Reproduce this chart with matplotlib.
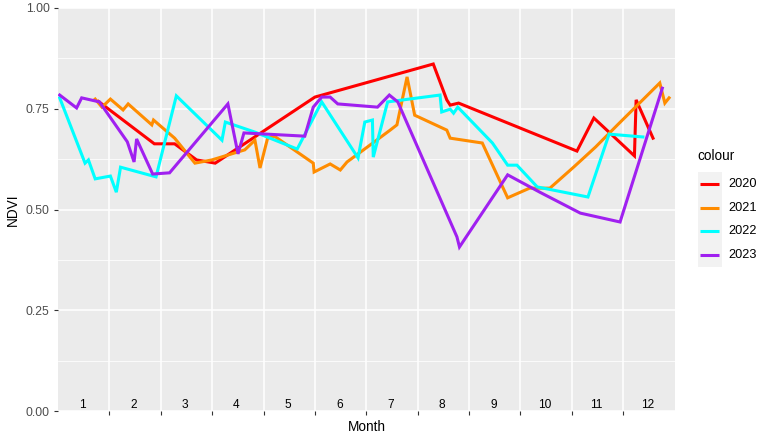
import matplotlib
matplotlib.use("Agg")
import matplotlib.pyplot as plt
import numpy as np

plt.rcParams['font.family'] = ['Liberation Sans', 'DejaVu Sans']

# dia del año y NDVI por año
days_2020 = [24, 57, 69, 82, 93, 152, 222, 230, 232, 237, 307, 317, 341, 342, 352]
ndvi_2020 = [0.768, 0.663, 0.663, 0.623, 0.615, 0.779, 0.861, 0.772, 0.759, 0.764,
             0.645, 0.727, 0.633, 0.772, 0.677]

days_2021 = [22, 26, 31, 38.5, 41.5, 55.5, 56.5, 69, 81, 91, 110.5, 116.5, 119.5, 124,
             128, 151, 151.5, 161, 167, 171, 183, 196.5, 200.5, 206.5, 211, 230, 232,
             251, 266, 279, 291, 305, 318, 331, 356, 359, 361.5]
ndvi_2021 = [0.774, 0.754, 0.774, 0.747, 0.762, 0.710, 0.722, 0.677, 0.615, 0.623,
             0.648, 0.672, 0.603, 0.677, 0.682, 0.615, 0.593, 0.613, 0.598, 0.618,
             0.655, 0.697, 0.710, 0.829, 0.734, 0.697, 0.677, 0.665, 0.529, 0.553,
             0.553, 0.605, 0.655, 0.710, 0.814, 0.764, 0.777]

days_2022 = [1, 16, 18, 22, 31, 34.5, 37, 58, 70, 97, 99, 116.5, 141.5, 156, 177.5,
             181.5, 186, 186.5, 195, 226, 227, 232, 234, 236.5, 257, 266, 271.5, 283.5,
             313.5, 326, 346]
ndvi_2022 = [0.777, 0.615, 0.623, 0.576, 0.583, 0.543, 0.605, 0.581, 0.782, 0.672,
             0.717, 0.692, 0.650, 0.767, 0.628, 0.717, 0.722, 0.630, 0.767, 0.784,
             0.742, 0.749, 0.739, 0.754, 0.665, 0.610, 0.610, 0.556, 0.531, 0.687,
             0.680]

days_2023 = [1, 11, 14, 24.5, 41, 45, 46.5, 56, 66, 100.5, 106.5, 110, 146, 151, 156,
             161, 165.5, 189, 196, 201, 236, 237.5, 266, 285, 309, 332.5, 357.5]
ndvi_2023 = [0.784, 0.752, 0.777, 0.767, 0.668, 0.618, 0.675, 0.588, 0.591, 0.762,
             0.638, 0.690, 0.682, 0.754, 0.779, 0.779, 0.762, 0.754, 0.784, 0.767,
             0.432, 0.407, 0.586, 0.543, 0.491, 0.469, 0.801]

years = ['2020', '2021', '2022', '2023']
colors = ['#FF0000', '#FF8C00', '#00FFFF', '#A020F0']
series = [(days_2020, ndvi_2020), (days_2021, ndvi_2021),
          (days_2022, ndvi_2022), (days_2023, ndvi_2023)]

month_len = 30.4
months = list(range(1, 13))

W, H = 773, 442
fig = plt.figure(figsize=(W / 100, H / 100), dpi=100)
ax = fig.add_axes([58 / W, 1 - 411 / H, (675 - 58) / W, (411 - 8) / H])
ax.set_facecolor('#EBEBEB')

# rejilla estilo ggplot
for y in [0.125, 0.375, 0.625, 0.875]:
    ax.axhline(y, color='white', lw=0.55, zorder=0)
for y in [0, 0.25, 0.5, 0.75, 1.0]:
    ax.axhline(y, color='white', lw=1.1, zorder=0)
xt = [month_len * k for k in range(1, 12)]
for x in xt:
    ax.axvline(x, color='white', lw=1.1, zorder=0)

for (d, v), c in zip(series, colors):
    ax.plot(d, v, color=c, lw=2.2, solid_joinstyle='miter', zorder=2)

for m in months:
    ax.text(month_len * (m - 0.5) - 0.8, 0.016, str(m), ha='center', va='center',
            fontsize=8.6, color='black', zorder=3)

ax.set_xlim(0, 365)
ax.set_ylim(0, 1)
ax.set_xticks(xt)
ax.set_xticklabels([])
ax.set_yticks([0, 0.25, 0.5, 0.75, 1.0])
ax.set_yticklabels(['0.00', '0.25', '0.50', '0.75', '1.00'])
ax.tick_params(axis='both', length=3, width=0.8, color='#333333',
               labelcolor='#4D4D4D', labelsize=8.7, pad=3)
for s in ax.spines.values():
    s.set_visible(False)

ax.set_xlabel('Month', fontsize=9.8, color='black', labelpad=0.5)
ax.set_ylabel('NDVI', fontsize=9.8, color='black', labelpad=4)

# leyenda
lax = fig.add_axes([698 / W, 1 - 267 / H, 24 / W, 95 / H])
lax.set_facecolor('#F2F2F2')
lax.set_xlim(0, 1)
lax.set_ylim(0, 4)
for i, (yr, c) in enumerate(zip(years, colors)):
    lax.plot([0.08, 0.88], [3.5 - i] * 2, color=c, lw=2.2, solid_capstyle='butt')
    lax.text(1.28, 3.5 - i, yr, ha='left', va='center', fontsize=9.2, color='black',
             clip_on=False)
lax.text(-0.04, 4.68, 'colour', ha='left', va='center', fontsize=9.8, color='black',
         clip_on=False)
lax.set_xticks([])
lax.set_yticks([])
for s in lax.spines.values():
    s.set_visible(False)

plt.savefig('out.png', dpi=100)
plt.close()
